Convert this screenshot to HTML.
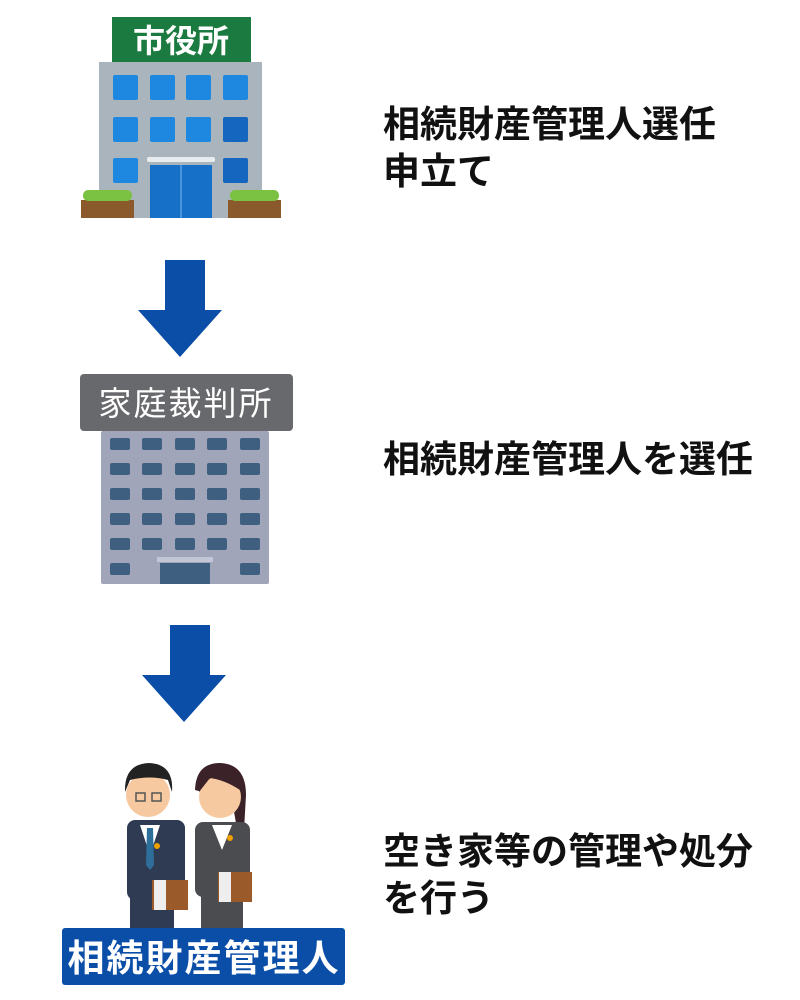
<!DOCTYPE html>
<html><head><meta charset="utf-8"><style>
body{margin:0;width:800px;height:1000px;background:#fff;position:relative;overflow:hidden;font-family:"Liberation Sans","Noto Sans CJK JP",sans-serif}
.t{position:absolute;left:383px;font-size:37px;font-weight:bold;line-height:47px;color:#111;white-space:nowrap}
svg{position:absolute;left:0;top:0}
</style></head><body>
<svg width="800" height="1000" viewBox="0 0 800 1000">
<!-- city hall -->
<rect x="112" y="17" width="139" height="46" fill="#1b7a40"/>
<text x="181" y="52" font-size="32" font-weight="bold" fill="#fff" text-anchor="middle" font-family="Noto Sans CJK JP,sans-serif">市役所</text>
<rect x="99" y="62" width="163" height="156" fill="#a9b4bd"/>
<g fill="#1e88e0">
<rect x="113" y="75" width="25" height="25" rx="2"/><rect x="150" y="75" width="25" height="25" rx="2"/><rect x="186" y="75" width="25" height="25" rx="2"/><rect x="223" y="75" width="25" height="25" rx="2"/>
<rect x="113" y="117" width="25" height="25" rx="2"/><rect x="150" y="117" width="25" height="25" rx="2"/><rect x="186" y="117" width="25" height="25" rx="2"/><rect x="223" y="117" width="25" height="25" rx="2" fill="#1466be"/>
<rect x="113" y="158" width="25" height="25" rx="2"/><rect x="223" y="158" width="25" height="25" rx="2" fill="#1466be"/>
</g>
<rect x="150" y="165" width="62" height="53" fill="#1670c8"/>
<line x1="181" y1="165" x2="181" y2="218" stroke="#5aa0e0" stroke-width="1.5"/>
<rect x="147" y="157" width="68" height="5" rx="2" fill="#e8ecef"/>
<rect x="81" y="200" width="53" height="18" fill="#8a5a2c"/><rect x="83" y="190" width="49" height="11" rx="5" fill="#7cc242"/>
<rect x="228" y="200" width="53" height="18" fill="#8a5a2c"/><rect x="230" y="190" width="49" height="11" rx="5" fill="#7cc242"/>
<!-- arrows -->
<polygon points="165,260 205,260 205,310 222,310 180,357 138,310 165,310" fill="#0a4ea8"/>
<polygon points="170,625 210,625 210,675 226,675 184,722 142,675 170,675" fill="#0a4ea8"/>
<!-- court -->
<rect x="101" y="431" width="168" height="153" rx="2" fill="#a1a5ba"/>
<g fill="#3f5f80">
<rect x="110" y="438" width="20" height="12" rx="2"/><rect x="142" y="438" width="20" height="12" rx="2"/><rect x="175" y="438" width="20" height="12" rx="2"/><rect x="207" y="438" width="20" height="12" rx="2"/><rect x="240" y="438" width="20" height="12" rx="2"/>
<rect x="110" y="463" width="20" height="12" rx="2"/><rect x="142" y="463" width="20" height="12" rx="2"/><rect x="175" y="463" width="20" height="12" rx="2"/><rect x="207" y="463" width="20" height="12" rx="2"/><rect x="240" y="463" width="20" height="12" rx="2"/>
<rect x="110" y="488" width="20" height="12" rx="2"/><rect x="142" y="488" width="20" height="12" rx="2"/><rect x="175" y="488" width="20" height="12" rx="2"/><rect x="207" y="488" width="20" height="12" rx="2"/><rect x="240" y="488" width="20" height="12" rx="2"/>
<rect x="110" y="513" width="20" height="12" rx="2"/><rect x="142" y="513" width="20" height="12" rx="2"/><rect x="175" y="513" width="20" height="12" rx="2"/><rect x="207" y="513" width="20" height="12" rx="2"/><rect x="240" y="513" width="20" height="12" rx="2"/>
<rect x="110" y="538" width="20" height="12" rx="2"/><rect x="142" y="538" width="20" height="12" rx="2"/><rect x="175" y="538" width="20" height="12" rx="2"/><rect x="207" y="538" width="20" height="12" rx="2"/><rect x="240" y="538" width="20" height="12" rx="2"/>
<rect x="110" y="563" width="20" height="12" rx="2"/><rect x="240" y="563" width="20" height="12" rx="2"/>
<rect x="160" y="563" width="50" height="21"/>
</g>
<rect x="157" y="557" width="56" height="5" fill="#c3c6d6"/>
<rect x="80" y="374" width="213" height="57" rx="4" fill="#68696d"/>
<text x="186" y="415" font-size="33" fill="#fff" text-anchor="middle" font-family="Noto Sans CJK JP,sans-serif" letter-spacing="2">家庭裁判所</text>
<!-- man -->
<rect x="127" y="820" width="58" height="80" rx="8" fill="#2e3b52"/>
<rect x="130" y="895" width="44" height="35" fill="#2e3b52"/>
<polygon points="140,825 160,825 150,855" fill="#fff"/>
<polygon points="147,828 153,828 154,865 150,870 146,865" fill="#2e6e9a"/>
<circle cx="157" cy="846" r="3" fill="#f0a000"/>
<circle cx="148" cy="795" r="22" fill="#f6c9a0"/>
<path d="M125 792 Q124 764 149 763 Q174 764 172 792 L168 780 Q150 775 130 780Z" fill="#222"/>
<rect x="136" y="793" width="9" height="8" fill="none" stroke="#555" stroke-width="1.5"/><rect x="152" y="793" width="9" height="8" fill="none" stroke="#555" stroke-width="1.5"/>
<rect x="152" y="880" width="36" height="30" fill="#9a5a2a"/><rect x="154" y="880" width="12" height="30" fill="#eee"/>
<!-- woman -->
<path d="M195 790 Q196 763 220 763 Q246 764 246 795 L244 830 L238 835 L232 800Z" fill="#3a2228"/>
<rect x="195" y="822" width="55" height="75" rx="8" fill="#4a4c50"/>
<rect x="201" y="895" width="42" height="35" fill="#4a4c50"/>
<polygon points="212,825 232,825 222,850" fill="#fff"/>
<circle cx="230" cy="838" r="3" fill="#f0a000"/>
<circle cx="220" cy="797" r="21" fill="#f6c9a0"/>
<path d="M199 792 Q200 768 221 768 Q240 770 240 790 Q225 780 210 778Z" fill="#3a2228"/>
<rect x="218" y="872" width="34" height="30" fill="#9a5a2a"/><rect x="219" y="872" width="12" height="30" fill="#eee"/>
<!-- label -->
<rect x="62" y="928" width="283" height="57" rx="3" fill="#0a4ea8"/>
<text x="204" y="971" font-size="37" font-weight="bold" fill="#fff" text-anchor="middle" font-family="Noto Sans CJK JP,sans-serif" letter-spacing="2">相続財産管理人</text>
</svg>
<div class="t" style="top:101px">相続財産管理人選任<br>申立て</div>
<div class="t" style="top:436px">相続財産管理人を選任</div>
<div class="t" style="top:828px">空き家等の管理や処分<br>を行う</div>
</body></html>
